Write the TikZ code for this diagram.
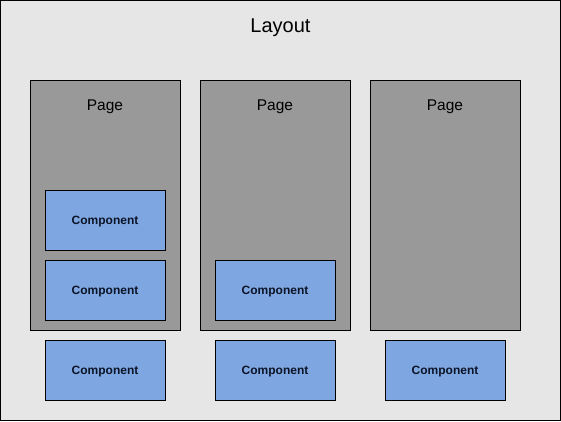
\documentclass[tikz,border=0pt]{standalone}
\usepackage{fontspec}
\setmainfont{Liberation Sans}
\usepackage{xcolor}
\usetikzlibrary{positioning}
\definecolor{layoutgray}{RGB}{230,230,230}
\definecolor{pagegray}{RGB}{153,153,153}
\definecolor{compblue}{RGB}{126,166,224}
\definecolor{comptext}{RGB}{12,20,40}

\begin{document}
\begin{tikzpicture}[x=1pt, y=-1pt,
    page/.style={rectangle, draw=black, fill=pagegray, line width=0.9pt,
                 minimum width=150pt, minimum height=250pt, inner sep=0pt},
    comp/.style={rectangle, draw=black, fill=compblue, line width=0.9pt,
                 minimum width=120pt, minimum height=60pt, inner sep=0pt,
                 text depth=0pt,
                 font=\fontsize{12}{14}\selectfont\bfseries, text=comptext},
    pagelabel/.style={font=\fontsize{15.5}{18}\selectfont, anchor=center}]
    \useasboundingbox (0,0) rectangle (561,421);
    % outer layout frame
    \node[rectangle, draw=black, fill=layoutgray, line width=0.9pt,
          minimum width=560pt, minimum height=420pt, inner sep=0pt] (layout) at (280.5,210.5) {};
    \node[font=\fontsize{20}{24}\selectfont] (title) at (280.5,28) {Layout};
    % pages
    \node[page] (p1) at (105,205) {};
    \node[page] (p2) at (275,205) {};
    \node[page] (p3) at (445,205) {};
    \node[pagelabel] (p1t) at (105,107) {Page};
    \node[pagelabel] (p2t) at (275,107) {Page};
    \node[pagelabel] (p3t) at (445,107) {Page};
    % components inside pages
    \node[comp] (c1) at (105,220) {Component};
    \node[comp] (c2) at (105,290) {Component};
    \node[comp] (c3) at (275,290) {Component};
    % components below pages
    \node[comp] (c4) at (105,370) {Component};
    \node[comp] (c5) at (275,370) {Component};
    \node[comp] (c6) at (445,370) {Component};
\end{tikzpicture}
\end{document}
